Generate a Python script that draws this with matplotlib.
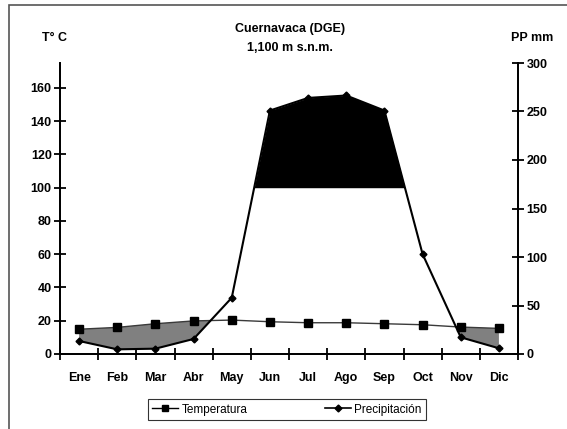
import numpy as np
import matplotlib
matplotlib.use("Agg")
import matplotlib.pyplot as plt
from matplotlib.patches import Rectangle
from matplotlib.lines import Line2D

months = ["Ene", "Feb", "Mar", "Abr", "May", "Jun", "Jul", "Ago", "Sep", "Oct", "Nov", "Dic"]
temperatura = [14.9, 16.0, 18.2, 19.9, 20.4, 19.4, 18.8, 18.8, 18.2, 17.6, 16.2, 15.4]
precipitacion = [13.4, 4.8, 5.5, 15.5, 58.0, 251.0, 264.0, 266.5, 251.0, 103.0, 17.2, 5.9]
t_ticks = [0, 20, 40, 60, 80, 100, 120, 140, 160]
p_ticks = [0, 50, 100, 150, 200, 250, 300]
t_max, p_max = 175, 300
humid_level = 100  # on temperature axis

plt.rcParams['font.family'] = ['Liberation Sans', 'DejaVu Sans']

fig = plt.figure(figsize=(5.67, 4.29), dpi=100)
# outer frame
fig.patches.append(Rectangle((9/567, -0.1), 1.2, (1 - 5/429) + 0.1, transform=fig.transFigure,
                             fill=False, edgecolor='#555555', linewidth=1.2))

ax = fig.add_axes([60/567, 1 - 354/429, (518 - 60)/567, (354 - 63)/429])
ax2 = ax.twinx()

x = np.arange(len(months)) + 0.5
T = np.array(temperatura)
P = np.array(precipitacion)
P_left = P * t_max / p_max

# densify for clean fills
xf = np.linspace(x[0], x[-1], 2000)
Tf = np.interp(xf, x, T)
Pf = np.interp(xf, x, P_left)

ax.fill_between(xf, Pf, Tf, where=Tf >= Pf, color='#808080', linewidth=0, zorder=1)
ax.fill_between(xf, Pf, humid_level, where=Pf >= humid_level, color='black', linewidth=0, zorder=1)

ax.plot(x, T, color='#3a3a3a', linewidth=1.0, marker='s', markersize=5.5,
        markerfacecolor='black', markeredgecolor='black', zorder=3)
ax2.plot(x, P, color='black', linewidth=1.5, marker='D', markersize=3.5,
         markerfacecolor='black', markeredgecolor='black', zorder=3)

fs = 9
ax.set_xlim(0, 12)
ax.set_ylim(0, t_max)
ax2.set_ylim(0, p_max)

ax.set_yticks(t_ticks)
ax2.set_yticks(p_ticks)
ax.set_xticks(np.arange(0, 13))
ax.set_xticklabels([])
ax.set_xticks(x, minor=True)
ax.set_xticklabels(months, minor=True, fontweight='bold', fontsize=fs)
ax.tick_params(axis='x', which='minor', length=0, pad=13)
ax.tick_params(axis='x', which='major', direction='inout', length=8, width=1.3)
ax.tick_params(axis='y', direction='inout', length=8, width=1.3, labelsize=fs, pad=2)
ax2.tick_params(axis='y', direction='inout', length=8, width=1.3, labelsize=fs, pad=2)
for lab in ax.get_yticklabels() + ax2.get_yticklabels():
    lab.set_fontweight('bold')

for a in (ax, ax2):
    a.spines['top'].set_visible(False)
    for s in ('left', 'right', 'bottom'):
        a.spines[s].set_linewidth(1.3)
    a.patch.set_visible(False)

fig.text(55/567, 1 - 38/429, "T° C", ha='center', va='center', fontsize=fs, fontweight='bold')
fig.text(532/567, 1 - 38/429, "PP mm", ha='center', va='center', fontsize=fs, fontweight='bold')
fig.text(290/567, 1 - 29/429, "Cuernavaca (DGE)", ha='center', va='center', fontsize=fs, fontweight='bold')
fig.text(290/567, 1 - 48/429, "1,100 m s.n.m.", ha='center', va='center', fontsize=fs, fontweight='bold')

handles = [Line2D([], [], color='black', linewidth=1.0, marker='s', markersize=5),
           Line2D([], [], color='black', linewidth=1.2, marker='D', markersize=3.5)]
leg = fig.legend(handles, ["Temperatura", "Precipitación"], loc='center',
                 bbox_to_anchor=(287/567, 1 - 409.5/429), ncol=2, fontsize=8.5,
                 frameon=True, fancybox=False, edgecolor='black', handlelength=2.2,
                 handletextpad=0.3, columnspacing=6.5, borderpad=0.35)
leg.get_frame().set_linewidth(0.8)

fig.savefig("out.png", dpi=100)
